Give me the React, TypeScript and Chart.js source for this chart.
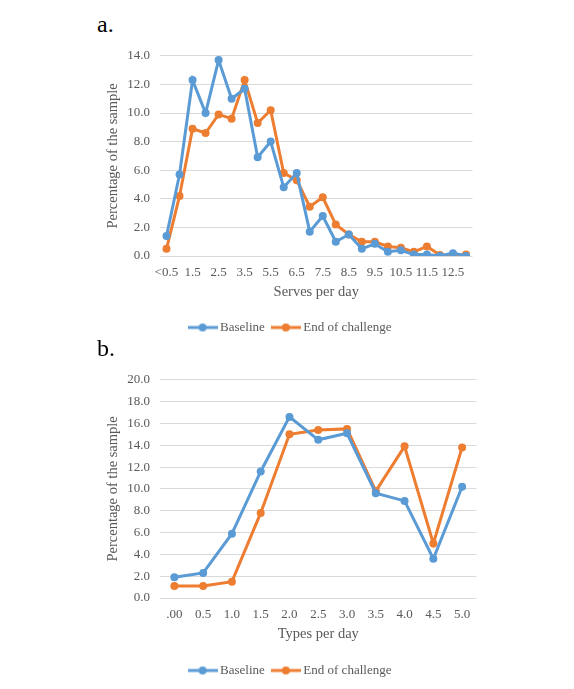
import React, { useEffect, useRef } from "react";
import { Chart, registerables } from "chart.js";

Chart.register(...registerables);

// ---------- Data ----------
const serveCategories = [
  "<0.5", "1.0", "1.5", "2.0", "2.5", "3.0", "3.5", "4.5", "5.5", "6.0", "6.5", "7.0",
  "7.5", "8.0", "8.5", "9.0", "9.5", "10.0", "10.5", "11.0", "11.5", "12.0", "12.5", "13.0",
];
const serveBaseline = [
  1.4, 5.7, 12.3, 10.0, 13.7, 11.0, 11.7, 6.9, 8.0, 4.8, 5.8, 1.7,
  2.8, 1.0, 1.5, 0.5, 0.85, 0.3, 0.4, 0.1, 0.1, 0.0, 0.2, 0.0,
];
const serveEnd = [
  0.5, 4.2, 8.9, 8.6, 9.9, 9.6, 12.3, 9.3, 10.2, 5.8, 5.3, 3.45,
  4.1, 2.2, 1.5, 1.0, 1.0, 0.67, 0.58, 0.29, 0.67, 0.07, 0.07, 0.1,
];

const typeCategories = [".00", "0.5", "1.0", "1.5", "2.0", "2.5", "3.0", "3.5", "4.0", "4.5", "5.0"];
const typeBaseline = [1.9, 2.3, 5.9, 11.6, 16.6, 14.5, 15.1, 9.6, 8.9, 3.6, 10.2];
const typeEnd = [1.1, 1.1, 1.5, 7.8, 15.0, 15.4, 15.5, 9.8, 13.9, 5.0, 13.8];

const seriesNames = ["Baseline", "End of challenge"];
const seriesColors = ["#5B9BD5", "#ED7D31"];

const FONT = "'Liberation Serif', 'Times New Roman', serif";
const TEXT = "#595959";

function makeIcon(color: string) {
  const c = document.createElement("canvas");
  c.width = 30;
  c.height = 10;
  const ctx = c.getContext("2d")!;
  ctx.strokeStyle = color;
  ctx.lineWidth = 3;
  ctx.beginPath();
  ctx.moveTo(0, 5);
  ctx.lineTo(30, 5);
  ctx.stroke();
  ctx.fillStyle = color;
  ctx.beginPath();
  ctx.arc(15, 5, 4, 0, Math.PI * 2);
  ctx.fill();
  return c;
}

type Props = {
  labels: string[];
  series: number[][];
  yMax: number;
  yStep: number;
  xTitle: string;
  everyOther: boolean;
  left: number;
  top: number;
  width: number;
  height: number;
  padTop: number;
  padBottom: number;
  xHeight: number;
  xTitlePad: number;
  rightW: number;
};

function LineChart(p: Props) {
  const ref = useRef<HTMLCanvasElement>(null);
  useEffect(() => {
    const icons = seriesColors.map(makeIcon);
    const chart = new Chart(ref.current!, {
      type: "line",
      data: {
        labels: p.labels,
        datasets: p.series.map((d, i) => ({
          label: seriesNames[i],
          data: d,
          borderColor: seriesColors[i],
          backgroundColor: seriesColors[i],
          borderWidth: 3,
          pointRadius: 4,
          pointBorderWidth: 0,
          pointHoverRadius: 4,
          tension: 0,
          fill: false,
          yAxisID: "y",
        })),
      },
      options: {
        animation: false,
        responsive: false,
        maintainAspectRatio: false,
        layout: { padding: { top: p.padTop, bottom: p.padBottom, left: 0, right: 0 } },
        plugins: {
          tooltip: { enabled: false },
          legend: {
            position: "bottom",
            labels: {
              usePointStyle: true,
              pointStyleWidth: 22,
              padding: 10,
              color: TEXT,
              font: { family: FONT, size: 13 },
              generateLabels: (ch: any) =>
                ch.data.datasets.map((ds: any, i: number) => ({
                  text: ds.label,
                  fillStyle: seriesColors[i],
                  strokeStyle: seriesColors[i],
                  lineWidth: 0,
                  pointStyle: icons[i],
                  hidden: false,
                  datasetIndex: i,
                  fontColor: TEXT,
                })),
            },
          },
        },
        scales: {
          x: {
            type: "category",
            offset: true,
            grid: { display: false, drawTicks: false },
            border: { display: false },
            ticks: {
              autoSkip: false,
              maxRotation: 0,
              minRotation: 0,
              padding: 9,
              color: TEXT,
              font: { family: FONT, size: 13 },
              callback: function (this: any, _v: any, i: number) {
                if (p.everyOther && i % 2 === 1) return "";
                return p.labels[i];
              },
            },
            title: {
              display: true,
              text: p.xTitle,
              color: TEXT,
              font: { family: FONT, size: 14.5 },
              padding: { top: 0, bottom: p.xTitlePad },
            },
            afterFit: (s: any) => {
              s.height = p.xHeight;
            },
          },
          y: {
            type: "linear",
            position: "left",
            min: 0,
            max: p.yMax,
            grid: { color: "#D9D9D9", lineWidth: 1, drawTicks: false },
            border: { display: false },
            ticks: {
              stepSize: p.yStep,
              padding: 10,
              color: TEXT,
              font: { family: FONT, size: 13 },
              callback: (v: any) => Number(v).toFixed(1),
            },
            title: {
              display: true,
              text: "Percentage of the sample",
              color: TEXT,
              font: { family: FONT, size: 14.5 },
              padding: { top: 14.3, bottom: 0 },
            },
            afterFit: (s: any) => {
              s.width = 70;
            },
          },
          yRight: {
            type: "linear",
            position: "right",
            display: true,
            grid: { display: false, drawTicks: false },
            border: { display: false },
            ticks: { display: false },
            afterFit: (s: any) => {
              s.width = p.rightW;
            },
          },
        },
      } as any,
    });
    return () => chart.destroy();
  }, []);
  return (
    <canvas
      ref={ref}
      width={p.width}
      height={p.height}
      style={{ position: "absolute", left: p.left, top: p.top, width: p.width, height: p.height }}
    />
  );
}

const panelLabel: React.CSSProperties = {
  position: "absolute",
  fontFamily: FONT,
  fontSize: 24,
  lineHeight: "24px",
  color: "#000",
};

export default function App() {
  return (
    <div style={{ position: "absolute", left: 0, top: 0, width: 574, height: 689, background: "#fff" }}>
      <div style={{ ...panelLabel, left: 97, top: 12 }}>a.</div>
      <LineChart
        labels={serveCategories}
        series={[serveBaseline, serveEnd]}
        yMax={14}
        yStep={2}
        xTitle="Serves per day"
        everyOther={true}
        left={90}
        top={38}
        width={403}
        height={306}
        padTop={9.7}
        padBottom={0}
        xHeight={55}
        xTitlePad={10.6}
        rightW={20.5}
      />
      <div style={{ ...panelLabel, left: 97, top: 336 }}>b.</div>
      <LineChart
        labels={typeCategories}
        series={[typeBaseline, typeEnd]}
        yMax={20}
        yStep={2}
        xTitle="Types per day"
        everyOther={false}
        left={90}
        top={362}
        width={403}
        height={325}
        padTop={12.3}
        padBottom={0}
        xHeight={56}
        xTitlePad={11}
        rightW={16.5}
      />
    </div>
  );
}
